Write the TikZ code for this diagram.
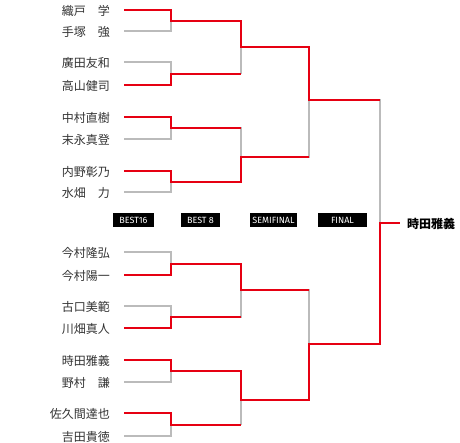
\documentclass[tikz,border=0pt]{standalone}
\usepackage{fontspec}
\newfontfamily\jp{Noto Sans CJK JP}
\newfontfamily\lab{Fira Sans}
\definecolor{wred}{HTML}{E60012}
\definecolor{lgray}{HTML}{BBBBBB}
\definecolor{ntext}{HTML}{333333}
\begin{document}
\begin{tikzpicture}[x=1pt,y=-1pt,
  player/.style={anchor=east,inner sep=0pt,font=\jp\fontsize{12}{12}\selectfont,text=ntext},
  lose/.style={draw=lgray,line width=1.3pt},
  win/.style={draw=wred,line width=2pt,line join=miter},
  roundlab/.style={fill=black,text=white,font=\lab\fontsize{9}{9}\selectfont,minimum height=14pt,inner sep=0pt}]
\useasboundingbox (0,0) rectangle (460,442);
% players
\foreach \n/\y/\t in {1/10/織戸　学,2/31/手塚　強,3/62/廣田友和,4/85/高山健司,5/117/中村直樹,6/139/末永真登,7/171/内野彰乃,8/192/水畑　力,9/252/今村隆弘,10/275/今村陽一,11/306/古口美範,12/328/川畑真人,13/360/時田雅義,14/382/野村　謙,15/413/佐久間達也,16/436/吉田貴徳}{
  \node[player] (p\n) at (110,\y+1) {\t};
  \coordinate (s\n) at (124,\y);
}
% round 1 junctions
\foreach \k/\y in {1/20.5,2/73.5,3/128,4/181.5,5/263.5,6/317,7/371,8/424.5}
  \coordinate (a\k) at (171,\y);
% round 2 junctions
\foreach \k/\y in {1/47,2/157,3/290,4/400}
  \coordinate (b\k) at (241,\y);
% semifinal junctions
\coordinate (c1) at (309,100);
\coordinate (c2) at (309,344);
% final
\coordinate (f) at (380,223);
\coordinate (w) at (400,223);
% gray brackets
\foreach \k in {1,...,8}{
  \pgfmathtruncatemacro\i{2*\k-1}
  \pgfmathtruncatemacro\j{2*\k}
  \draw[lose] (s\i) -| (a\k);
  \draw[lose] (s\j) -| (a\k);
}
\foreach \k in {1,...,4}{
  \pgfmathtruncatemacro\i{2*\k-1}
  \pgfmathtruncatemacro\j{2*\k}
  \draw[lose] (a\i) -| (b\k);
  \draw[lose] (a\j) -| (b\k);
}
\draw[lose] (b1) -| (c1);
\draw[lose] (b2) -| (c1);
\draw[lose] (b3) -| (c2);
\draw[lose] (b4) -| (c2);
\draw[lose] (c1) -| (f);
\draw[lose] (c2) -| (f);
% winners
\draw[win] (s1) -| (a1) -| (b1) -| (c1) -- (c1 -| f);
\draw[win] (s4) -| (a2) -- (a2 -| b1);
\draw[win] (s5) -| (a3) -- (a3 -| b2);
\draw[win] (s7) -| (a4) -| (b2) -- (b2 -| c1);
\draw[win] (s10) -| (a5) -| (b3) -- (b3 -| c2);
\draw[win] (s12) -| (a6) -- (a6 -| b3);
\draw[win] (s13) -| (a7) -| (b4) -| (c2) -| (f) -- (w);
\draw[win] (s15) -| (a8) -- (a8 -| b4);
% champion
\node[anchor=west,inner sep=0pt,font=\jp\bfseries\fontsize{12}{12}\selectfont] (champ) at (407,224) {時田雅義};
% round labels
\node[roundlab,minimum width=41pt] (l16) at (133.5,220) {BEST16};
\node[roundlab,minimum width=39pt] (l8) at (200.5,220) {BEST 8};
\node[roundlab,minimum width=47pt] (lsf) at (273.5,220) {SEMIFINAL};
\node[roundlab,minimum width=49pt] (lf) at (342.5,220) {FINAL};
\end{tikzpicture}
\end{document}
